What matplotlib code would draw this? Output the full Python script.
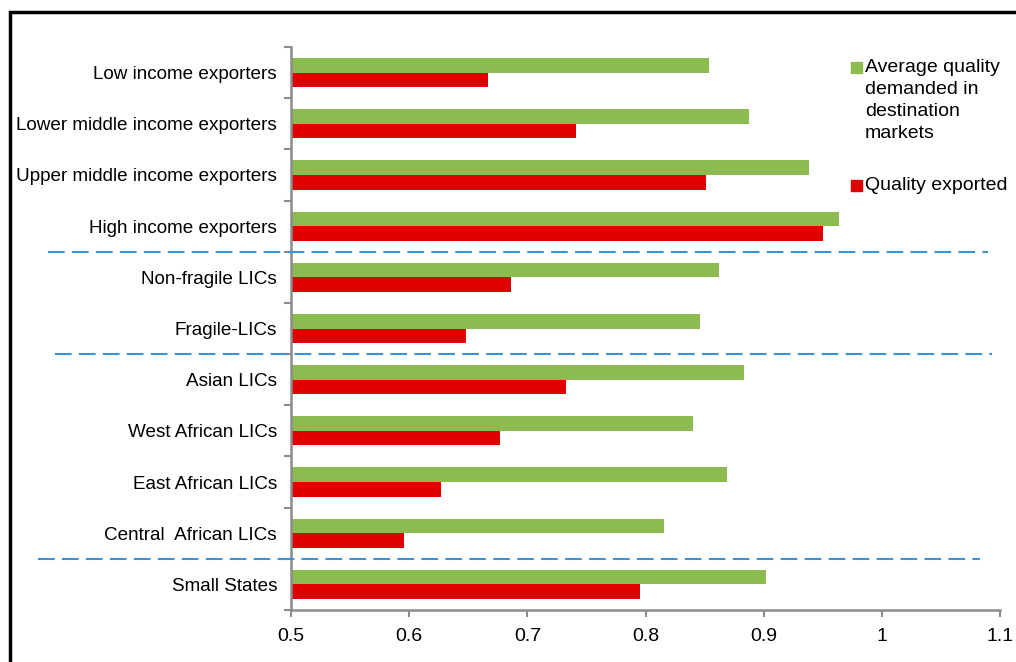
import matplotlib
matplotlib.use("Agg")
import matplotlib.pyplot as plt
from matplotlib.patches import Rectangle
from matplotlib.lines import Line2D

plt.rcParams['font.family'] = ['Liberation Sans', 'DejaVu Sans']

categories = ["Low income exporters", "Lower middle income exporters",
              "Upper middle income exporters", "High income exporters",
              "Non-fragile LICs", "Fragile-LICs", "Asian LICs",
              "West African LICs", "East African LICs", "Central  African LICs",
              "Small States"]
demanded = [0.854, 0.888, 0.938, 0.964, 0.862, 0.846, 0.883, 0.840, 0.869, 0.816, 0.902]
exported = [0.667, 0.741, 0.851, 0.950, 0.686, 0.648, 0.733, 0.677, 0.627, 0.596, 0.795]
xticks = [0.5, 0.6, 0.7, 0.8, 0.9, 1.0, 1.1]
xtick_labels = ["0.5", "0.6", "0.7", "0.8", "0.9", "1", "1.1"]
# group separators sit after these category indexes
separators = [3, 5, 9]

green = "#8cbb50"
red = "#e00000"
dash_blue = "#3a93d6"
grey = "#8c8c8c"

fig = plt.figure(figsize=(10.16, 6.62), dpi=100)
ax = fig.add_axes([291/1016, 52/662, 709/1016, 563/662])

n = len(categories)
pos = list(range(n))
h = 0.285
ax.barh([p - h/2 for p in pos], demanded, height=h, left=0, color=green)
ax.barh([p + h/2 for p in pos], exported, height=h, left=0, color=red)

ax.set_ylim(n - 0.5, -0.5)
ax.set_xlim(0.5, 1.1)
ax.set_xticks(xticks)
ax.set_xticklabels(xtick_labels, fontsize=14)
ax.set_yticks(pos)
ax.set_yticklabels(categories, fontsize=13.6)
ax.set_yticks([p - 0.5 for p in range(n + 1)], minor=True)
ax.tick_params(axis='y', which='major', length=0, pad=10)
ax.tick_params(axis='y', which='minor', length=5, color=grey, width=1.5, direction='out')
ax.tick_params(axis='x', length=5, color=grey, width=1.5, direction='out', pad=8)
for s in ['top', 'right']:
    ax.spines[s].set_visible(False)
for s in ['left', 'bottom']:
    ax.spines[s].set_color(grey)
    ax.spines[s].set_linewidth(1.8)

# dashed separators between groups (span outside the axes)
sep_x = [(48, 988), (55, 992), (38, 980)]
for idx, (x0, x1) in zip(separators, sep_x):
    y_disp = ax.transData.transform((0.5, idx + 0.5))[1]
    yf = y_disp / fig.bbox.height
    fig.add_artist(Line2D([x0/1016, x1/1016], [yf, yf], color=dash_blue,
                          lw=1.5, dashes=(8, 3.5)))

# legend drawn by hand
fig.add_artist(Rectangle((851/1016, 1 - 73/662), 11/1016, 11/662,
                         color=green, transform=fig.transFigure))
fig.text(865/1016, 1 - 59/662,
         "Average quality\ndemanded in\ndestination\nmarkets",
         fontsize=14, va='top', ha='left', linespacing=1.38)
fig.add_artist(Rectangle((851/1016, 1 - 191/662), 11/1016, 11/662,
                         color=red, transform=fig.transFigure))
fig.text(865/1016, 1 - 177/662, "Quality exported",
         fontsize=14, va='top', ha='left')

# outer frame
fig.add_artist(Rectangle((10/1016, -0.05), 1.1, 1 - 12/662 + 0.05,
                         fill=False, ec="black", lw=2.5,
                         transform=fig.transFigure))

fig.savefig("out.png", dpi=100)
